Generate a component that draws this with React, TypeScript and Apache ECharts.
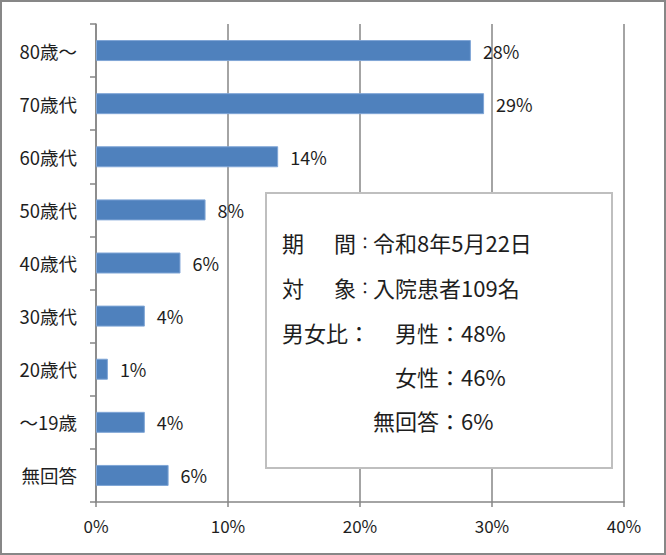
import React, { useEffect, useRef } from "react";
import * as echarts from "echarts";

const categories = ["80歳〜", "70歳代", "60歳代", "50歳代", "40歳代", "30歳代", "20歳代", "〜19歳", "無回答"];
const shares = [0.284, 0.294, 0.138, 0.083, 0.064, 0.037, 0.009, 0.037, 0.055];
const axisTicks = [0, 0.1, 0.2, 0.3, 0.4];

const FONT = "'Noto Sans CJK JP', 'Noto Sans', sans-serif";
const TEXT = "#1e1e1e";

const boxLines = [
  { x: 282, y: 242, text: "期", size: 22 },
  { x: 334, y: 242, text: "間", size: 22 },
  { x: 357, y: 242, text: "：", size: 16 },
  { x: 373, y: 242, text: "令和8年5月22日", size: 22 },
  { x: 282, y: 287, text: "対", size: 22 },
  { x: 334, y: 287, text: "象", size: 22 },
  { x: 357, y: 287, text: "：", size: 16 },
  { x: 373, y: 287, text: "入院患者109名", size: 22 },
  { x: 282, y: 332, text: "男女比：", size: 22 },
  { x: 395, y: 332, text: "男性：48%", size: 22 },
  { x: 395, y: 376, text: "女性：46%", size: 22 },
  { x: 373, y: 420, text: "無回答：6%", size: 22 },
];

export default function App() {
  const ref = useRef<HTMLDivElement>(null);
  useEffect(() => {
    if (!ref.current) return;
    const chart = echarts.init(ref.current, undefined, { renderer: "svg" });
    chart.setOption({
      animation: false,
      backgroundColor: "#ffffff",
      grid: { left: 96, right: 42, top: 24, bottom: 53, containLabel: false },
      xAxis: {
        type: "value",
        min: axisTicks[0],
        max: axisTicks[axisTicks.length - 1],
        interval: 0.1,
        axisLine: { show: true, lineStyle: { color: "#868686", width: 1.5 } },
        axisTick: { show: true, length: 5, lineStyle: { color: "#868686", width: 1.5 } },
        splitLine: { show: true, lineStyle: { color: "#868686", width: 1.5 } },
        axisLabel: {
          margin: 15,
          fontSize: 17,
          fontFamily: FONT,
          color: TEXT,
          formatter: (v: number) => Math.round(v * 100) + "%",
        },
      },
      yAxis: {
        type: "category",
        inverse: true,
        data: categories,
        axisLine: { show: true, lineStyle: { color: "#868686", width: 1.5 } },
        axisTick: { show: true, length: 6, alignWithLabel: false, lineStyle: { color: "#868686", width: 1.5 } },
        splitLine: { show: false },
        axisLabel: { margin: 19, fontSize: 18.5, fontFamily: FONT, color: TEXT },
      },
      series: [
        {
          type: "bar",
          data: shares,
          barWidth: 21,
          itemStyle: { color: "#4f81bd", borderColor: "#7fa5d6", borderWidth: 1 },
          label: {
            show: true,
            position: "right",
            distance: 12,
            fontSize: 18,
            fontFamily: FONT,
            color: TEXT,
            formatter: (p: any) => Math.round(p.value * 100) + "%",
          },
        },
      ],
      graphic: [
        {
          type: "rect",
          z: 10,
          shape: { x: 266, y: 193, width: 346, height: 275 },
          style: { fill: "#ffffff", stroke: "#bfbfbf", lineWidth: 2 },
        },
        ...boxLines.map((l) => ({
          type: "text",
          z: 11,
          x: l.x,
          y: l.y,
          style: {
            text: l.text,
            fontSize: l.size,
            fontFamily: FONT,
            fill: TEXT,
            textAlign: "left",
            textVerticalAlign: "middle",
          },
        })),
        {
          type: "rect",
          z: 12,
          shape: { x: 1, y: 1, width: 664, height: 553 },
          style: { fill: "none", stroke: "#878787", lineWidth: 2 },
        },
      ],
    });
    return () => chart.dispose();
  }, []);
  return (
    <div
      ref={ref}
      style={{ position: "fixed", left: 0, top: 0, width: 666, height: 555 }}
    />
  );
}
